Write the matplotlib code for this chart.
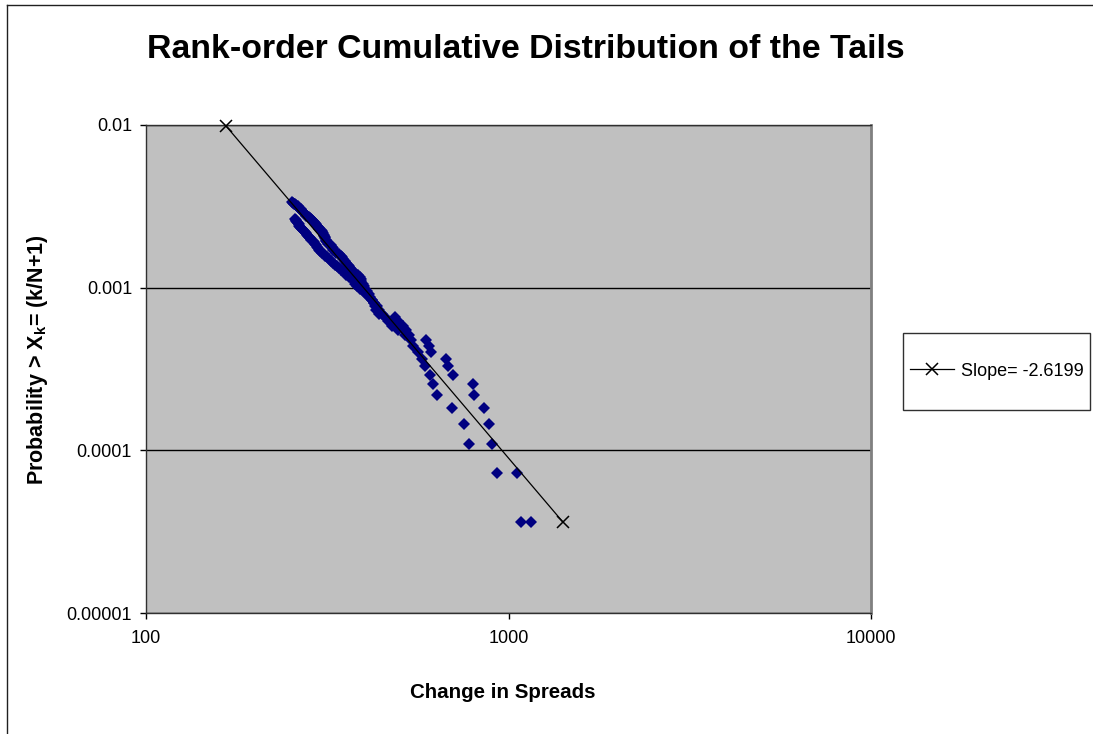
import numpy as np
import matplotlib
matplotlib.use("Agg")
import matplotlib.pyplot as plt
from matplotlib.lines import Line2D
from matplotlib.patches import Rectangle
from matplotlib.ticker import FixedLocator, FixedFormatter, NullLocator

plt.rcParams['font.family'] = ['Liberation Sans', 'DejaVu Sans']

# sample size used for the rank-order probability k/(N+1)
n_obs = 27396

# tail observations sorted by rank k = 1, 2, 3, ...
tail_a = [1153, 1053, 900, 883, 855, 805, 797, 705, 680, 672, 612, 603, 594,
          532, 523, 513, 497, 486, 439, 432, 428, 425, 421, 415, 412, 407,
          403, 399, 396, 393, 391, 389, 384, 374, 370, 366, 364, 360, 357,
          353, 350, 348, 345, 341, 335, 332, 329, 327, 325, 323, 318, 316,
          314, 313, 312, 311, 310, 309, 308, 306, 305, 303, 301, 300, 298,
          296, 294, 293, 291, 289, 287, 285, 283, 282, 280, 277, 276, 275,
          273, 271, 270, 268, 267, 266, 265, 263, 262, 260, 258, 256, 254, 252]
tail_b = [1080, 931, 778, 754, 700, 635, 619, 607, 589, 576, 563, 546, 540,
          518, 496, 478, 464, 455, 448, 440, 434, 426, 421, 413, 405, 397,
          389, 383, 377, 374, 369, 363, 357, 351, 346, 341, 337, 332, 328,
          324, 319, 315, 312, 309, 306, 302, 301, 298, 296, 294, 293, 290,
          288, 285, 283, 282, 280, 278, 276, 275, 273, 271, 269, 268, 266,
          265, 264, 263, 261, 260, 259, 258]

# fitted power law
slope = -2.6199
fit_x = [166, 1410]
fit_y0 = 0.0099

x_ticks = [100, 1000, 10000]
x_labels = ["100", "1000", "10000"]
y_ticks = [0.00001, 0.0001, 0.001, 0.01]
y_labels = ["0.00001", "0.0001", "0.001", "0.01"]

W, H = 1093, 734
fig = plt.figure(figsize=(W / 100, H / 100), dpi=100)
ax = fig.add_axes([146 / W, 1 - 613 / H, (871 - 146) / W, (613 - 125) / H])
ax.set_facecolor('#C0C0C0')

ax.set_xscale('log')
ax.set_yscale('log')
ax.set_xlim(100, 10000)
ax.set_ylim(0.00001, 0.01)

for y in y_ticks:
    ax.axhline(y, color='black', lw=1, zorder=1)

for tail in (tail_a, tail_b):
    ranks = np.arange(1, len(tail) + 1)
    prob = ranks / (n_obs + 1)
    ax.plot(tail, prob, ls='none', marker='D', ms=6.6, mew=0,
            color='#000080', zorder=3)

fit_y = [fit_y0, fit_y0 * (fit_x[1] / fit_x[0]) ** slope]
ax.plot(fit_x, fit_y, color='black', lw=0.9, marker='x', ms=8.5, mew=1.1,
        zorder=4, clip_on=False)

ax.xaxis.set_major_locator(FixedLocator(x_ticks))
ax.xaxis.set_major_formatter(FixedFormatter(x_labels))
ax.yaxis.set_major_locator(FixedLocator(y_ticks))
ax.yaxis.set_major_formatter(FixedFormatter(y_labels))
ax.xaxis.set_minor_locator(NullLocator())
ax.yaxis.set_minor_locator(NullLocator())
ax.tick_params(axis='both', direction='out', length=4, width=1, labelsize=13)
ax.tick_params(axis='x', pad=8)
ax.tick_params(axis='y', pad=6)

for side in ('left', 'bottom', 'top'):
    ax.spines[side].set_color('#303030')
    ax.spines[side].set_linewidth(1)
ax.spines['right'].set_color('#808080')
ax.spines['right'].set_linewidth(2)

fig.text(526 / W, 1 - 50 / H, "Rank-order Cumulative Distribution of the Tails",
         ha='center', va='center', fontsize=24.4, fontweight='bold')
fig.text(503 / W, 1 - 693 / H, "Change in Spreads", ha='center', va='center',
         fontsize=14.8, fontweight='bold')
fig.text(38 / W, 1 - 360 / H, r"Probability > X$_\mathregular{k}$= (k/N+1)",
         ha='center', va='center', rotation=90, fontsize=15.5, fontweight='bold')

# legend box
fig.add_artist(Rectangle((903 / W, 1 - 410 / H), (1090 - 903) / W, 77 / H,
                         transform=fig.transFigure, fill=False,
                         edgecolor='#303030', lw=1))
handle = Line2D([], [], color='black', lw=0.9, marker='x', ms=8.5, mew=1.1)
fig.legend([handle], ["Slope= -2.6199"], loc='center left',
           bbox_to_anchor=(903 / W, 1 - 371 / H), frameon=False, fontsize=13,
           handlelength=2.4, handletextpad=0.4, borderpad=0.4,
           borderaxespad=0)

# chart border
fig.add_artist(Line2D([7 / W, 7 / W], [0, 1 - 5 / H], color='#202020', lw=1))
fig.add_artist(Line2D([7 / W, 1], [1 - 5 / H, 1 - 5 / H], color='#202020', lw=1))

fig.savefig("out.png", dpi=100)
